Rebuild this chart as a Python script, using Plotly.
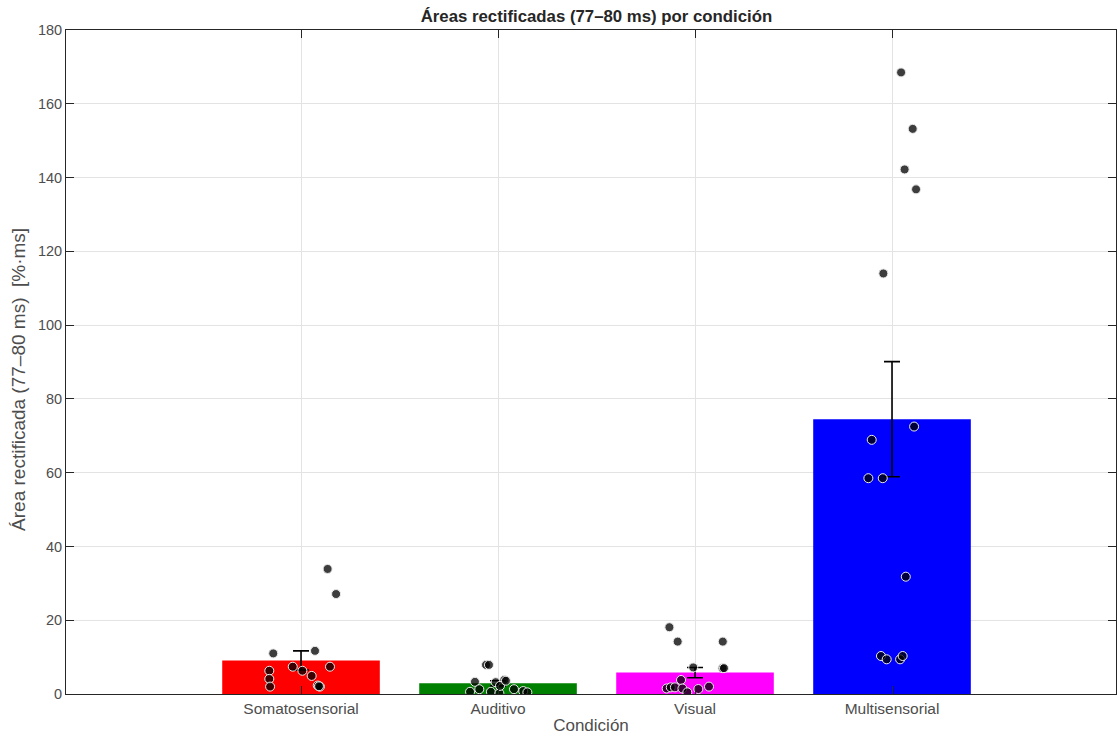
import plotly.graph_objects as go

categories = ["Somatosensorial", "Auditivo", "Visual", "Multisensorial"]
means = [9.1, 2.9, 5.8, 74.5]
sems = [2.6, 0.7, 1.4, 15.6]
bar_colors = ["#FF0000", "#008000", "#FF00FF", "#0000FF"]

soma_vals = [33.9, 27.1, 11.0, 11.7, 6.3, 4.1, 2.0, 7.4, 6.3, 4.9, 2.3, 2.0, 2.1, 7.4]
soma_jit = [0.135, 0.178, -0.141, 0.071, -0.161, -0.161, -0.157, -0.042, 0.007, 0.054, 0.085, 0.096, 0.091, 0.147]
aud_vals = [7.9, 7.9, 3.3, 3.2, 3.8, 0.6, 1.3, 0.6, 0.2, 1.3, 0.8, 0.45, 2.2, 3.6]
aud_jit = [-0.061, -0.046, -0.117, -0.012, 0.032, -0.142, -0.095, -0.036, 0.007, 0.081, 0.128, 0.149, 0.01, 0.04]
vis_vals = [18.1, 14.2, 14.2, 7.2, 7.0, 7.0, 3.8, 1.5, 1.8, 1.8, 1.5, 0.45, 1.35, 2.0]
vis_jit = [-0.130, -0.088, 0.141, -0.009, 0.140, 0.147, -0.071, -0.144, -0.123, -0.102, -0.064, -0.039, 0.017, 0.071]
multi_vals = [168.5, 153.2, 142.2, 136.8, 114.0, 72.5, 68.9, 58.5, 58.5, 31.8, 10.3, 9.4, 9.4, 10.3]
multi_jit = [0.046, 0.105, 0.064, 0.122, -0.044, 0.112, -0.103, -0.120, -0.047, 0.070, -0.056, -0.027, 0.041, 0.054]

points = [(soma_vals, soma_jit), (aud_vals, aud_jit), (vis_vals, vis_jit), (multi_vals, multi_jit)]
xpos = [1, 2, 3, 4]

FONT = "Liberation Sans, Arial, sans-serif"

fig = go.Figure()
fig.add_trace(go.Bar(
    x=xpos, y=means, width=0.8,
    marker=dict(color=bar_colors, line=dict(width=0)),
    error_y=dict(type="data", array=sems, visible=True, color="#000000", thickness=1.6, width=8),
    showlegend=False,
))
for xc, (vals, jit) in zip(xpos, points):
    fig.add_trace(go.Scatter(
        x=[xc + j for j in jit], y=vals, mode="markers",
        marker=dict(size=9, color="rgba(0,0,0,0.76)", line=dict(color="rgba(235,235,235,1)", width=1)),
        showlegend=False,
    ))

axis_common = dict(
    showline=True, linecolor="#262626", linewidth=1, mirror="ticks",
    ticks="inside", ticklen=8, tickcolor="#262626",
    showgrid=True, gridcolor="#e3e3e3", gridwidth=1, zeroline=False,
    automargin=False,
)

fig.update_layout(
    width=1117, height=736,
    margin=dict(l=66, r=1, t=30, b=42),
    plot_bgcolor="white", paper_bgcolor="white",
    title=dict(text="<b>Áreas rectificadas (77–80 ms) por condición</b>", x=0.534, xanchor="center",
               y=0.978, yanchor="middle", automargin=False,
               font=dict(family=FONT, size=16.8, color="#262626")),
    xaxis=dict(range=[-0.193, 5.137], tickvals=xpos, ticktext=categories,
               tickfont=dict(family=FONT, size=15.5, color="#4d4d4d"),
               title=dict(text="Condición", standoff=3,
                          font=dict(family=FONT, size=17, color="#4d4d4d")),
               **axis_common),
    yaxis=dict(range=[0, 180], tickvals=list(range(0, 181, 20)),
               tickfont=dict(family=FONT, size=14.5, color="#4d4d4d"),
               **axis_common),
    annotations=[dict(
        text="Área rectificada (77–80 ms)\u00a0\u00a0[%·ms]", textangle=-90,
        xref="paper", yref="paper", x=0, y=0.473, xanchor="center", yanchor="middle",
        xshift=-47, showarrow=False,
        font=dict(family=FONT, size=19, color="#4d4d4d"),
    )],
    bargap=0.2,
)

post = ("document.documentElement.style.margin='0';document.body.style.margin='0';"
        "document.body.style.padding='0';document.body.style.overflow='hidden';"
        "var gd=document.getElementById('{plot_id}');"
        "Plotly.relayout(gd,{width:1117,height:736});")

fig.write_html("out.html", post_script=post, config={"responsive": False, "displayModeBar": False})
